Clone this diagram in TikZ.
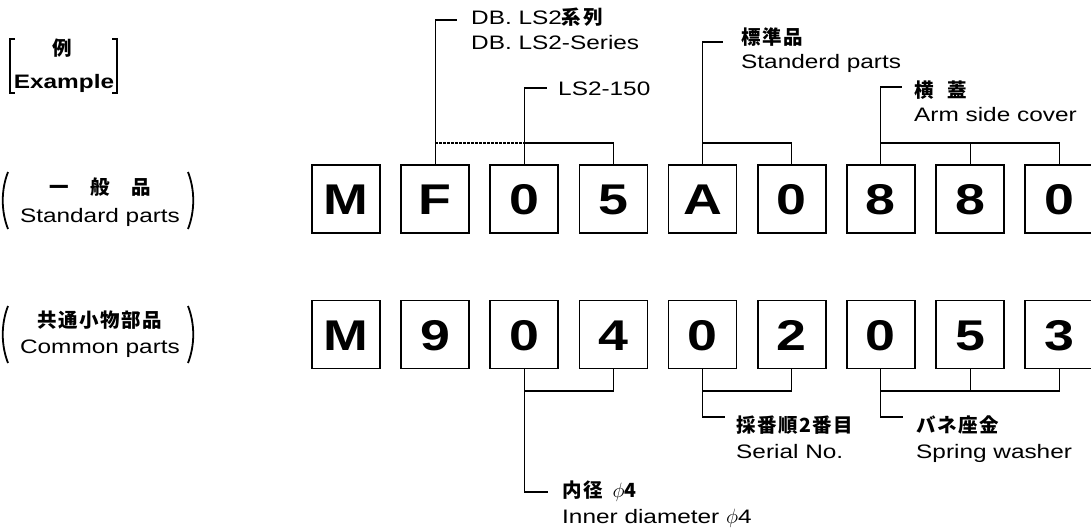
\documentclass[tikz,border=0pt]{standalone}
\usepackage{fontspec}
\setmainfont{Liberation Sans}[FakeStretch=1.25]
\newfontfamily\jp{Noto Sans CJK JP}[LetterSpace=8]
\begin{document}
\begin{tikzpicture}[x=1pt,y=-1pt,
  charbox/.style={draw, line width=1.7pt, minimum width=68pt, minimum height=68pt, inner sep=0pt,
    font=\fontsize{43}{43}\selectfont\bfseries, text height=31pt, text depth=0pt},
  conn/.style={line width=1.1pt},
  lab/.style={anchor=base west, inner sep=0pt, font=\fontsize{19.5}{24}\selectfont},
  jlab/.style={anchor=base west, inner sep=0pt, font=\fontsize{19.5}{24}\selectfont\jp\bfseries},
  side/.style={inner sep=0pt, font=\fontsize{19.5}{24}\selectfont},
  jside/.style={inner sep=0pt, font=\fontsize{19.5}{24}\selectfont\jp\bfseries},
  brk/.style={line width=1.8pt}
]
\useasboundingbox (0,0) rectangle (1091,527);

% left captions
\node[jside] (ex1) at (62,48) {例};
\node[side, font=\fontsize{19.5}{24}\selectfont\bfseries] (ex2) at (64,83) {Example};
\draw[brk, line width=2pt] (15,39) -- (10,39) -- (10,93) -- (15,93);
\draw[brk, line width=2pt] (112,39) -- (117,39) -- (117,93) -- (112,93);

\node[jside] (st1) at (100,187) {一\hspace{1.1em}般\hspace{1.1em}品};
\node[side] (st2) at (100,217) {Standard parts};
\draw[brk] (8,172) .. controls (1,190) and (1,211) .. (8,229);
\draw[brk] (188,172) .. controls (195,190) and (195,211) .. (188,229);

\node[jside] (cp1) at (100,320) {共通小物部品};
\node[side] (cp2) at (100,349) {Common parts};
\draw[brk] (8,306) .. controls (1,324) and (1,345) .. (8,363);
\draw[brk] (188,306) .. controls (195,324) and (195,345) .. (188,363);

% top row
\foreach \c [count=\i] in {M,F,0,5,A,0,8,8,0}{
  \node[charbox] (t\i) at ({346+89.15*(\i-1)},199) {\c};
}
% bottom row
\foreach \c [count=\i] in {M,9,0,4,0,2,0,5,3}{
  \node[charbox] (b\i) at ({346+89.15*(\i-1)},334.5) {\c};
}

% top connectors
\coordinate (eF) at (457,20);
\draw[conn] (t2.north) |- (eF);
\draw[conn, dash pattern=on 2.5pt off 1.5pt] (t2.north |- 0,143) -- (t3.north |- 0,143);
\coordinate (e05) at (547,88);
\draw[conn] (t3.north) |- (e05);
\draw[conn] (t3.north |- 0,143) -| (t4.north);
\coordinate (eA) at (723,42);
\draw[conn] (t5.north) |- (eA);
\draw[conn] (t5.north |- 0,143) -| (t6.north);
\coordinate (e8) at (902,87);
\draw[conn] (t7.north) |- (e8);
\draw[conn] (t7.north |- 0,143) -| (t9.north);
\draw[conn] (t8.north) -- (t8.north |- 0,143);

\node[lab] (l1a) at (471,25) {DB. LS2{\jp\bfseries\fontsize{19.5}{24}\selectfont 系列}};
\node[lab] (l1b) at (471,50) {DB. LS2-Series};
\node[lab] (l2) at (558,95) {LS2-150};
\node[jlab] (l3a) at (741,45) {標準品};
\node[lab] (l3b) at (741,68) {Standerd parts};
\node[jlab] (l4a) at (914,97) {横\hspace{0.7em}蓋};
\node[lab] (l4b) at (914,121) {Arm side cover};

% bottom connectors
\coordinate (e04) at (548,492);
\draw[conn] (b3.south) |- (e04);
\draw[conn] (b3.south |- 0,391) -| (b4.south);
\coordinate (e02) at (725,417);
\draw[conn] (b5.south) |- (e02);
\draw[conn] (b5.south |- 0,391) -| (b6.south);
\coordinate (e053) at (903,417);
\draw[conn] (b7.south) |- (e053);
\draw[conn] (b7.south |- 0,391) -| (b9.south);
\draw[conn] (b8.south) -- (b8.south |- 0,391);

\node[jlab] (l5a) at (562,497) {内径\hspace{0.5em}{\fontsize{19.5}{24}\selectfont$\phi$4}};
\node[lab] (l5b) at (562,523) {Inner diameter $\phi$4};
\node[jlab] (l6a) at (736,432) {採番順2番目};
\node[lab] (l6b) at (736,458) {Serial No.};
\node[jlab] (l7a) at (916,432) {バネ座金};
\node[lab] (l7b) at (916,458) {Spring washer};
\end{tikzpicture}
\end{document}
